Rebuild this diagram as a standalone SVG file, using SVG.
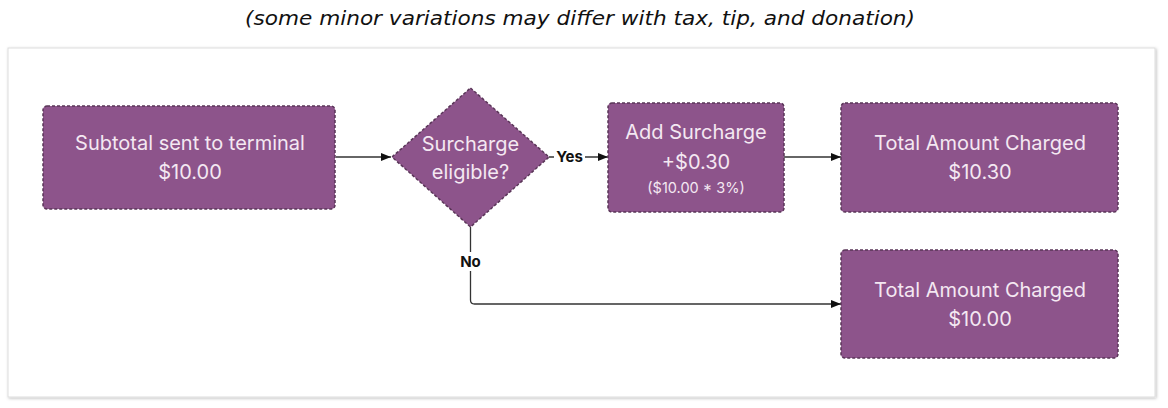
<svg xmlns="http://www.w3.org/2000/svg" width="1168" height="408" viewBox="0 0 1168 408">
  <defs>
    <style>
      .node { fill: #8d548b; stroke: #5a3658; stroke-width: 1.5; stroke-dasharray: 3 2; }
      .lbl { font-family: Inter, "Noto Sans", "Liberation Sans", sans-serif; font-size: 20px; fill: #f4e8f2; text-anchor: middle; }
      .small { font-size: 14.5px; }
      .conn { fill: none; stroke: #333333; stroke-width: 1.3; }
      .elbl { font-family: Inter, "Liberation Sans", sans-serif; font-size: 15px; font-weight: bold; fill: #111111; text-anchor: middle; }
      .title { font-family: "DejaVu Sans", "Liberation Sans", sans-serif; font-style: italic; font-size: 20px; fill: #111111; text-anchor: middle; }
    </style>
    <marker id="arrow" viewBox="0 0 10 10" refX="10" refY="5" markerWidth="10" markerHeight="10" markerUnits="userSpaceOnUse" orient="auto">
      <path d="M0,1 L10,5 L0,9 Z" fill="#111111"/>
    </marker>
    <filter id="shadow" x="-2%" y="-5%" width="104%" height="110%">
      <feDropShadow dx="1" dy="1" stdDeviation="1.5" flood-color="#000" flood-opacity="0.25"/>
    </filter>
  </defs>
  <rect width="1168" height="408" fill="#ffffff"/>
  <text class="title" x="580" y="25" textLength="670" lengthAdjust="spacingAndGlyphs">(some minor variations may differ with tax, tip, and donation)</text>
  <rect x="8" y="48" width="1147" height="349" fill="#ffffff" stroke="#dddddd" stroke-width="1" filter="url(#shadow)"/>

  <g id="connectors">
    <line class="conn" x1="336" y1="157" x2="391" y2="157" marker-end="url(#arrow)"/>
    <line class="conn" x1="549" y1="157" x2="608" y2="157" marker-end="url(#arrow)"/>
    <line class="conn" x1="784" y1="157" x2="841" y2="157" marker-end="url(#arrow)"/>
    <path class="conn" d="M470.5,227 V300 Q470.5,304 474.5,304 H841" marker-end="url(#arrow)"/>
    <rect x="554" y="148" width="31" height="18" fill="#ffffff"/>
    <text class="elbl" x="569.5" y="162">Yes</text>
    <rect x="457" y="252" width="27" height="19" fill="#ffffff"/>
    <text class="elbl" x="470.5" y="267">No</text>
  </g>

  <g id="subtotal">
    <rect class="node" x="43" y="106" width="292" height="103" rx="4"/>
    <text class="lbl" x="190" y="150">Subtotal sent to terminal</text>
    <text class="lbl" x="190" y="179">$10.00</text>
  </g>

  <g id="eligible">
    <path class="node" d="M470.5,88 L549,157 L470.5,227 L392,157 Z" stroke-linejoin="round"/>
    <text class="lbl" x="470.5" y="151">Surcharge</text>
    <text class="lbl" x="470.5" y="179">eligible?</text>
  </g>

  <g id="addsurcharge">
    <rect class="node" x="608" y="103" width="176" height="109" rx="4"/>
    <text class="lbl" x="696" y="139">Add Surcharge</text>
    <text class="lbl" x="696" y="169">+$0.30</text>
    <text class="lbl small" x="696" y="193">($10.00 * 3%)</text>
  </g>

  <g id="total1">
    <rect class="node" x="841" y="103" width="277" height="109" rx="4"/>
    <text class="lbl" x="980" y="150">Total Amount Charged</text>
    <text class="lbl" x="980" y="179">$10.30</text>
  </g>

  <g id="total2">
    <rect class="node" x="841" y="250" width="277" height="108" rx="4"/>
    <text class="lbl" x="980" y="297">Total Amount Charged</text>
    <text class="lbl" x="980" y="326">$10.00</text>
  </g>
</svg>
